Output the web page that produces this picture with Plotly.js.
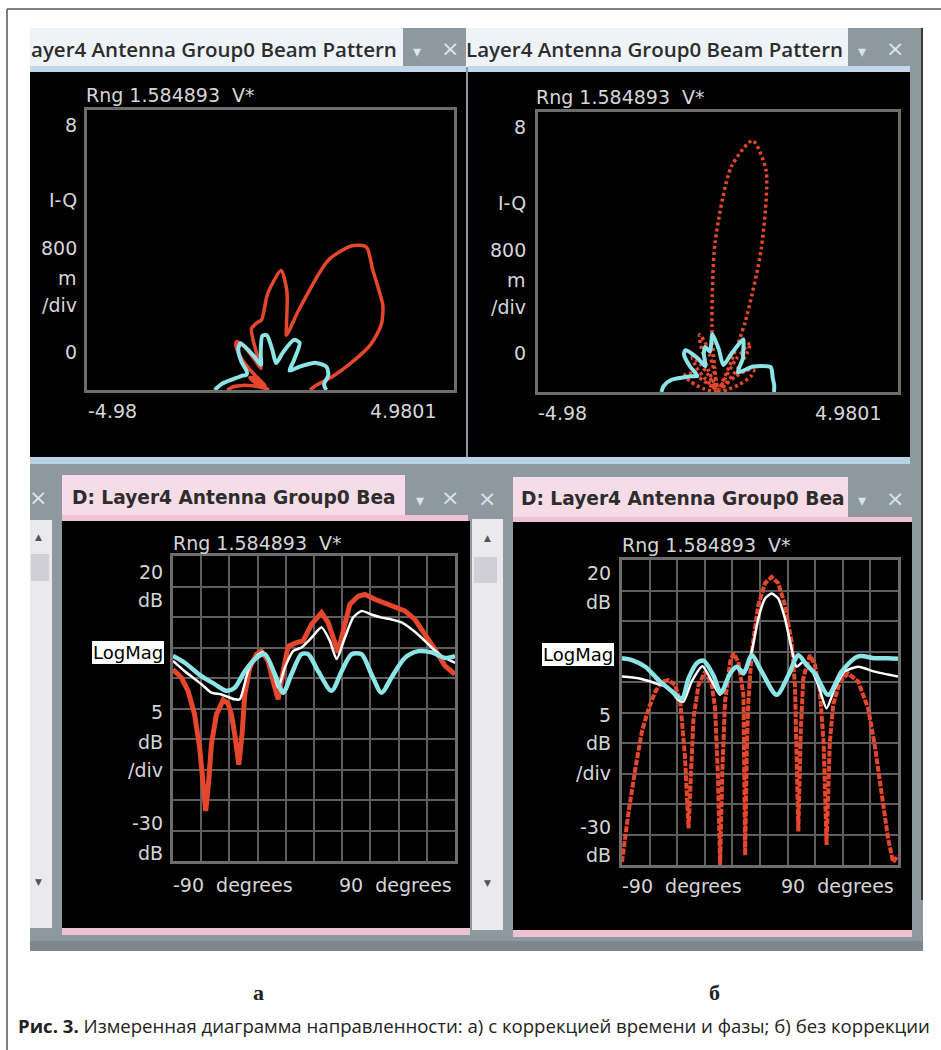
<!DOCTYPE html>
<html><head><meta charset="utf-8">
<script src="https://cdn.plot.ly/plotly-3.0.1.min.js"></script>
<style>html,body{margin:0;padding:0;background:#fff;}#chart{width:941px;height:1050px;}</style>
</head><body><div id="chart"></div>
<script>
// ---- Panel а (with time & phase correction): angle (deg) / level (dB) ----
const cyanA_deg = [-90,-82.5,-71.9,-63.4,-55.9,-50.6,-44.2,-36.7,-31.4,-25.0,-19.7,-14.4,-8.0,-3.7,2.7,11.2,17.6,24.0,30.3,36.7,43.1,49.5,58.0,66.6,75.1,83.6,90];
const cyanA_db  = [3.6,2.5,0.3,-1.0,-2.1,-1.6,1.1,3.3,3.9,0.6,-2.4,0.6,3.9,3.9,1.1,-2.1,1.1,3.9,3.9,0.6,-2.4,0.1,3.3,4.4,4.2,3.3,3.6];
const whiteA_deg = [-90,-82.5,-71.9,-65.5,-59.1,-50.6,-47.4,-42.1,-36.7,-32.5,-27.2,-22.9,-18.6,-13.3,-8.0,-1.6,4.8,10.1,14.4,19.7,25.0,30.3,36.7,43.1,49.5,55.9,62.3,68.7,75.1,81.5,90];
const whiteA_db  = [2.8,1.1,-1.0,-2.4,-2.7,-3.5,-3.5,1.1,3.6,4.2,2.2,-1.6,1.7,4.4,5.0,6.6,8.3,6.1,3.1,6.6,9.9,11.0,10.4,9.9,9.6,9.1,8.0,6.6,5.0,3.6,2.5];
const redA_deg = [-90,-84.7,-80.4,-76.2,-73.0,-70.8,-69.1,-67.2,-65.5,-62.3,-58.0,-54.9,-52.7,-50.6,-48.0,-45.9,-44.2,-41.0,-36.7,-33.6,-29.3,-26.1,-22.9,-19.7,-16.5,-11.2,-6.9,-1.6,4.8,9.0,13.3,15.4,18.6,22.9,28.2,32.5,38.9,45.3,51.6,58.0,64.4,70.8,77.2,83.6,90];
const redA_db  = [1.4,0.1,-2.1,-6.0,-11.4,-16.9,-21.8,-16.9,-10.9,-6.0,-3.6,-4.2,-6.0,-9.2,-14.2,-9.2,-2.7,1.7,3.9,4.4,2.8,-0.5,-3.5,1.1,5.2,5.8,6.1,8.8,10.7,9.1,5.5,4.2,7.7,12.1,13.4,13.7,12.9,12.3,11.8,11.0,9.6,7.2,4.7,2.0,0.6];

// ---- Panel б (without correction) ----
const cyanB_deg = [-90,-83.5,-74.8,-66.1,-58.5,-51.0,-46.6,-41.2,-36.9,-30.4,-25.6,-19.5,-15.2,-10.8,-5.4,1.1,10.9,18.5,25.0,30.4,35.8,44.5,53.2,64.0,74.8,83.5,90];
const cyanB_db  = [3.9,3.6,2.5,0.3,-1.3,-2.7,0.6,3.1,3.5,1.1,-1.8,1.4,2.5,1.4,4.4,1.7,-2.1,1.1,4.4,2.8,1.4,-2.1,1.7,4.2,3.9,3.9,3.8];
const whiteB_deg = [-90,-79.2,-68.3,-59.6,-53.1,-49.9,-44.5,-37.5,-31.4,-26.0,-20.6,-15.2,-9.7,-5.4,-1.1,3.3,7.6,11.9,16.3,20.6,23.9,28.2,32.5,38.0,43.4,48.8,55.3,64.0,74.8,90];
const whiteB_db  = [0.9,0.6,-0.2,-1.0,-3.0,-3.2,0.1,2.6,0.1,-2.1,0.9,2.4,1.7,5.0,10.4,13.7,14.5,13.7,10.4,5.5,2.5,3.3,2.5,-0.5,-4.3,-1.0,1.7,2.5,1.7,0.9];
const redB_deg = [-90,-85.7,-81.3,-77.0,-72.6,-68.3,-64.0,-59.6,-55.3,-52.0,-49.0,-46.6,-43.4,-40.1,-35.8,-31.4,-29.3,-27.5,-26.0,-24.5,-22.8,-19.5,-17.3,-14.1,-10.8,-9.7,-8.5,-7.6,-5.4,-1.1,3.3,7.6,11.9,16.3,20.6,22.8,25.0,26.6,28.2,32.5,35.8,39.1,41.5,43.4,45.5,47.7,52.1,57.5,64.0,70.5,74.8,79.2,83.5,86.8,90];
const redB_db  = [-29.5,-21.3,-14.2,-8.1,-4.3,-1.6,0.1,0.3,-0.5,-3.2,-12,-24,-6.0,-0.5,1.7,-0.5,-4.3,-15,-30,-14,-3.2,3.3,4.7,3.3,-2.1,-28.4,-10,-3.2,5.0,12.6,16.2,17.2,16.2,12.6,6.6,-0.5,-24.5,-8,0.6,4.4,2.8,-1.6,-10,-26.7,-10,-3.8,0.1,1.4,0.1,-4.3,-10.3,-18.0,-25.6,-29.5,-28.5];

// ---- axis texts ----
const rngText = 'Rng 1.584893\u00a0\u00a0V*';
const iqLabels = ['8','I-Q','800','m','/div','0'];
const iqX = ['-4.98','4.9801'];
const dbLabels = ['20','dB','5','dB','/div','-30','dB'];
const degLabels = ['-90\u00a0\u00a0degrees','90\u00a0\u00a0degrees'];
const caption = '<b>Рис. 3.</b> Измеренная диаграмма направленности: а) с коррекцией времени и фазы; б) без коррекции';

const W = 941, H = 1050;
const RED = '#e5472d', CYAN = '#8be4e6', WHITE = '#ffffff', SCR = '#d6d6d6';
const X = p => p / W, Y = p => 1 - p / H;

// linear-magnitude polar view (I-Q plane) derived from the dB readings
function polar(deg, db) {
  const x = [], y = [];
  deg.forEach((d, i) => {
    const r = Math.pow(10, db[i] / 20), t = d * Math.PI / 180;
    x.push(r * Math.sin(t)); y.push(r * Math.cos(t));
  });
  return {x, y};
}
const pRA = polar(redA_deg, redA_db), pCA = polar(cyanA_deg, cyanA_db);
const pRB = polar(redB_deg, redB_db), pCB = polar(cyanB_deg, cyanB_db);

const traces = [
  {x: pRA.x, y: pRA.y, xaxis: 'x', yaxis: 'y', mode: 'lines', line: {color: RED, width: 3.5, shape: 'spline', smoothing: 0.7}},
  {x: pCA.x, y: pCA.y, xaxis: 'x', yaxis: 'y', mode: 'lines', line: {color: CYAN, width: 4, shape: 'spline', smoothing: 0.7}},
  {x: pRB.x, y: pRB.y, xaxis: 'x2', yaxis: 'y2', mode: 'lines', line: {color: RED, width: 3.5, dash: '3px,3px', shape: 'spline', smoothing: 0.7}},
  {x: pCB.x, y: pCB.y, xaxis: 'x2', yaxis: 'y2', mode: 'lines', line: {color: CYAN, width: 4, shape: 'spline', smoothing: 0.7}},
  {x: redA_deg, y: redA_db, xaxis: 'x3', yaxis: 'y3', mode: 'lines', line: {color: RED, width: 5}},
  {x: whiteA_deg, y: whiteA_db, xaxis: 'x3', yaxis: 'y3', mode: 'lines', line: {color: WHITE, width: 2.5, shape: 'spline', smoothing: 0.6}},
  {x: cyanA_deg, y: cyanA_db, xaxis: 'x3', yaxis: 'y3', mode: 'lines', line: {color: CYAN, width: 4.5, shape: 'spline', smoothing: 0.8}},
  {x: redB_deg, y: redB_db, xaxis: 'x4', yaxis: 'y4', mode: 'lines', line: {color: RED, width: 4, dash: '6px,1.5px'}},
  {x: whiteB_deg, y: whiteB_db, xaxis: 'x4', yaxis: 'y4', mode: 'lines', line: {color: WHITE, width: 2.5, shape: 'spline', smoothing: 0.6}},
  {x: cyanB_deg, y: cyanB_db, xaxis: 'x4', yaxis: 'y4', mode: 'lines', line: {color: CYAN, width: 4.5, shape: 'spline', smoothing: 0.8}}
];

const frameAx = {showgrid: false, zeroline: false, showticklabels: false, ticks: '', showline: true, mirror: true, linecolor: '#6c6c6c', linewidth: 3, fixedrange: true};
const gridAx = Object.assign({}, frameAx, {showgrid: true, gridcolor: '#5e5e5e', gridwidth: 2});

// ---- window chrome ----
const shapes = [];
function rect(x0, y0, x1, y1, fill) {
  shapes.push({type: 'rect', xref: 'paper', yref: 'paper', x0: X(x0), x1: X(x1), y0: Y(y1), y1: Y(y0), fillcolor: fill, line: {width: 0}, layer: 'below'});
}
function line(x0, y0, x1, y1, color, w) {
  shapes.push({type: 'line', xref: 'paper', yref: 'paper', x0: X(x0), x1: X(x1), y0: Y(y0), y1: Y(y1), line: {color: color, width: w}, layer: 'above'});
}
const GRAY = '#8e989f', TITLE = '#eef3f8', STRIP = '#c2d7ea', PINK = '#f5dce6', PINK2 = '#eec2d3', SCROLL = '#e9e9ee';
rect(30, 28, 923, 951, GRAY);
rect(30, 28, 403, 67, TITLE);
rect(466, 28, 848, 67, TITLE);
rect(30, 66, 466, 72, STRIP);
rect(468, 66, 910, 72, STRIP);
rect(30, 72, 466, 457, '#000');
rect(468, 72, 910, 457, '#000');
rect(30, 457, 910, 464, '#b9d1e5');
// bottom row
rect(30, 520, 52, 928, SCROLL);
rect(31, 554, 49, 581, '#cfcfd5');
rect(62, 475, 405, 516, PINK);
rect(62, 515, 468, 521, PINK2);
rect(62, 521, 470, 928, '#000');
rect(62, 928, 470, 935, PINK2);
rect(472, 519, 503, 930, SCROLL);
rect(474, 557, 497, 583, '#cfcfd5');
rect(513, 477, 848, 518, PINK);
rect(513, 517, 912, 522, PINK2);
rect(513, 522, 912, 930, '#000');
rect(513, 930, 912, 937, PINK2);
rect(30, 941, 923, 951, '#7d878e');
line(922, 28, 922, 900, '#3a3a3a', 2);
// outer frame of the figure
line(7, 9, 941, 9, '#555', 1.5);
line(7, 9, 7, 1050, '#555', 1.5);

// ---- annotations ----
const ann = [];
function txt(x, y, text, anchor, font, extra) {
  ann.push(Object.assign({xref: 'paper', yref: 'paper', x: X(x), y: Y(y), text: text, showarrow: false, xanchor: anchor, yanchor: 'middle', font: font}, extra || {}));
}
const scr = {family: 'DejaVu Sans', size: 19, color: SCR};
const ttl = {family: 'Open Sans', size: 20.5, color: '#2d2d2d', weight: 600};
const tab = {family: 'DejaVu Sans', size: 18.6, color: '#2d2d2d', weight: 700};
const btn = {family: 'DejaVu Sans', size: 22, color: '#dde3e8'};
const arr = {family: 'DejaVu Sans', size: 16, color: '#dde3e8'};
const sa = {family: 'DejaVu Sans', size: 9, color: '#555'};

// top panels
txt(29, 49, 'ayer4 Antenna Group0 Beam Pattern', 'left', ttl);
txt(464, 49, 'Layer4 Antenna Group0 Beam Pattern', 'left', ttl);
txt(417, 51, '▾', 'center', arr); txt(450, 49, '×', 'center', btn);
txt(862, 51, '▾', 'center', arr); txt(895, 49, '×', 'center', btn);
const iqYA = [125, 200, 248, 278, 305, 352], iqYB = [127, 203, 250, 280, 307, 353];
txt(84, 95, rngText, 'left', scr);
iqLabels.forEach((t, i) => txt(79, iqYA[i], t, 'right', scr));
txt(86, 411, iqX[0], 'left', scr); txt(438, 411, iqX[1], 'right', scr);
txt(534, 97, rngText, 'left', scr);
iqLabels.forEach((t, i) => txt(528, iqYB[i], t, 'right', scr));
txt(536, 413, iqX[0], 'left', scr); txt(883, 413, iqX[1], 'right', scr);

// bottom panels
txt(38, 497, '×', 'center', btn);
txt(70, 497, 'D: Layer4 Antenna Group0 Bea', 'left', tab);
txt(420, 500, '▾', 'center', arr); txt(450, 497, '×', 'center', btn);
txt(38, 537, '▲', 'center', sa); txt(38, 882, '▼', 'center', sa);
txt(487, 498, '×', 'center', btn);
txt(519, 498, 'D: Layer4 Antenna Group0 Bea', 'left', tab);
txt(862, 501, '▾', 'center', arr); txt(895, 498, '×', 'center', btn);
txt(487, 538, '▲', 'center', sa); txt(487, 883, '▼', 'center', sa);

const dbYC = [572, 600, 712, 742, 770, 823, 853], dbYD = [573, 602, 715, 743, 773, 827, 855];
txt(171, 543, rngText, 'left', scr);
dbLabels.forEach((t, i) => txt(165, dbYC[i], t, 'right', scr));
txt(165, 652, 'LogMag', 'right', {family: 'DejaVu Sans', size: 18, color: '#000'}, {bgcolor: '#fff', bordercolor: '#000', borderwidth: 1, borderpad: 1});
txt(171, 885, degLabels[0], 'left', scr); txt(454, 885, degLabels[1], 'right', scr);
txt(620, 545, rngText, 'left', scr);
dbLabels.forEach((t, i) => txt(613, dbYD[i], t, 'right', scr));
txt(615, 654, 'LogMag', 'right', {family: 'DejaVu Sans', size: 18, color: '#000'}, {bgcolor: '#fff', bordercolor: '#000', borderwidth: 1, borderpad: 1});
txt(620, 886, degLabels[0], 'left', scr); txt(896, 886, degLabels[1], 'right', scr);

// sub-figure letters and caption
txt(258, 992, 'а', 'center', {family: 'Liberation Serif', size: 22, color: '#222', weight: 700});
txt(714, 992, 'б', 'center', {family: 'Liberation Serif', size: 22, color: '#222', weight: 700});
txt(16, 1025, caption, 'left', {family: 'Open Sans', size: 18.6, color: '#222'});

const layout = {
  width: W, height: H, margin: {l: 0, r: 0, t: 0, b: 0},
  paper_bgcolor: '#ffffff', plot_bgcolor: '#000000', showlegend: false,
  xaxis: Object.assign({}, frameAx, {anchor: 'y', domain: [X(87), X(454)], range: [-4.98, 4.9801]}),
  yaxis: Object.assign({}, frameAx, {anchor: 'x', domain: [Y(390), Y(110)], range: [0, 8]}),
  xaxis2: Object.assign({}, frameAx, {anchor: 'y2', domain: [X(538), X(898)], range: [-4.98, 4.9801]}),
  yaxis2: Object.assign({}, frameAx, {anchor: 'x2', domain: [Y(392), Y(112)], range: [0, 8]}),
  xaxis3: Object.assign({}, gridAx, {anchor: 'y3', domain: [X(173), X(455)], range: [-90, 90], tick0: -90, dtick: 18}),
  yaxis3: Object.assign({}, gridAx, {anchor: 'x3', domain: [Y(861), Y(556)], range: [-30, 20], tick0: -30, dtick: 5}),
  xaxis4: Object.assign({}, gridAx, {anchor: 'y4', domain: [X(622), X(898)], range: [-90, 90], tick0: -90, dtick: 18}),
  yaxis4: Object.assign({}, gridAx, {anchor: 'x4', domain: [Y(865), Y(560)], range: [-30, 20], tick0: -30, dtick: 5}),
  shapes: shapes, annotations: ann
};
Plotly.newPlot('chart', traces, layout, {staticPlot: true, displayModeBar: false});
</script></body></html>
